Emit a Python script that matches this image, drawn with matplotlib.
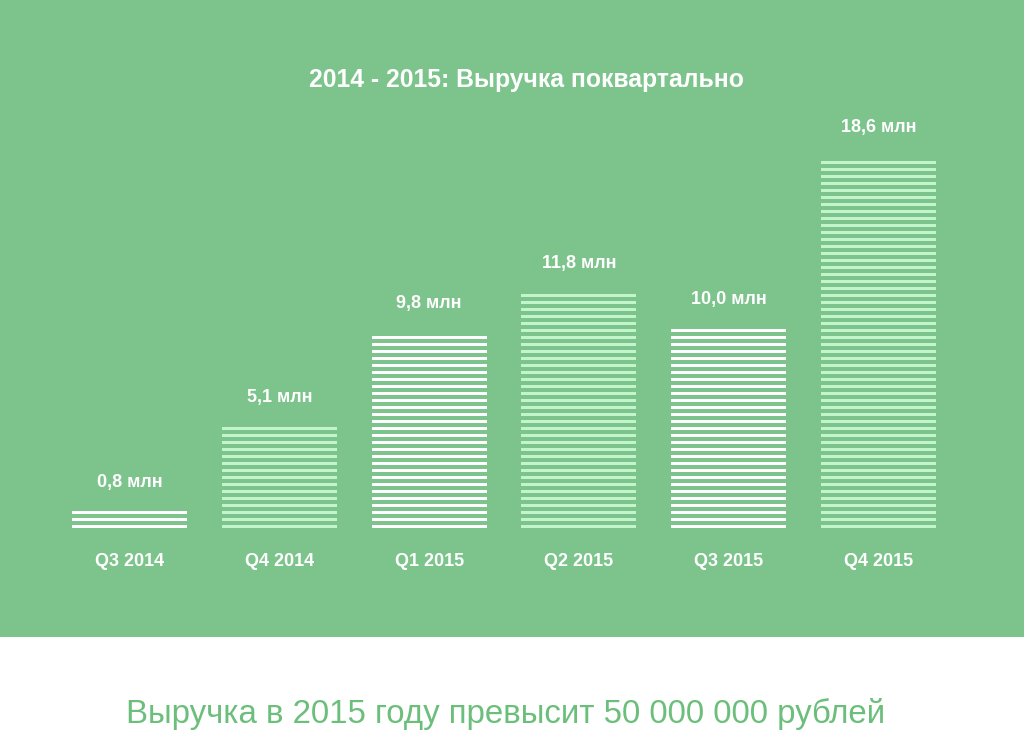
import numpy as np
import matplotlib
matplotlib.use("Agg")
import matplotlib.pyplot as plt

categories = ["Q3 2014", "Q4 2014", "Q1 2015", "Q2 2015", "Q3 2015", "Q4 2015"]
values = [0.8, 5.1, 9.8, 11.8, 10.0, 18.6]
value_labels = ["0,8 млн", "5,1 млн", "9,8 млн", "11,8 млн", "10,0 млн", "18,6 млн"]
title = "2014 - 2015: Выручка поквартально"
footer = "Выручка в 2015 году превысит 50 000 000 рублей"

BG = "#7cc48b"
LIGHT = "#c3f5cc"
stripe_colors = ["white", LIGHT, "white", LIGHT, "white", LIGHT]

plt.rcParams['font.family'] = ['Liberation Sans', 'DejaVu Sans']

W, H = 1024, 752
fig = plt.figure(figsize=(W / 100, H / 100), dpi=100)
fig.patch.set_facecolor("white")

bg_ax = fig.add_axes([0, 1 - 637 / H, 1, 637 / H], zorder=-5)
bg_ax.set_facecolor(BG)
bg_ax.set_xticks([])
bg_ax.set_yticks([])
for s in bg_ax.spines.values():
    s.set_visible(False)

base_px = 528
top_px = 157
ax = fig.add_axes([0, 1 - base_px / H, 1, (base_px - top_px) / H], zorder=1)
ax.set_facecolor("none")
px_per_x = 149.8
x0 = 129.5
ax.set_xlim(-x0 / px_per_x, -x0 / px_per_x + W / px_per_x)
ymax = max(values)
ax.set_ylim(0, ymax)
px_per_y = (base_px - top_px) / ymax
pitch = 7.0 / px_per_y
stripe = 3.0 / px_per_y
bw = 115 / px_per_x

for i, (v, c) in enumerate(zip(values, stripe_colors)):
    bottoms = np.arange(0, v - stripe * 0.5, pitch)
    ax.bar([i] * len(bottoms), [stripe] * len(bottoms), bottom=bottoms, width=bw,
           color=c, edgecolor="none", align="center", antialiased=False)
    ax.annotate(value_labels[i], (i, v), xytext=(0, 21), textcoords="offset points",
                ha="center", va="center", color="white", fontsize=13, fontweight="bold",
                annotation_clip=False)
    ax.annotate(categories[i], (i, 0), xytext=(0, -24), textcoords="offset points",
                ha="center", va="center", color="white", fontsize=13, fontweight="bold",
                annotation_clip=False)

for s in ax.spines.values():
    s.set_visible(False)
ax.set_xticks([])
ax.set_yticks([])

fig.text(526 / W, 1 - 80 / H, title, ha="center", va="center", color="white",
         fontsize=17.8, fontweight="bold")
fig.text(506 / W, 1 - 714 / H, footer, ha="center", va="center", color="#6cbe7b",
         fontsize=23.8)

fig.savefig("out.png", dpi=100, facecolor=fig.get_facecolor())
